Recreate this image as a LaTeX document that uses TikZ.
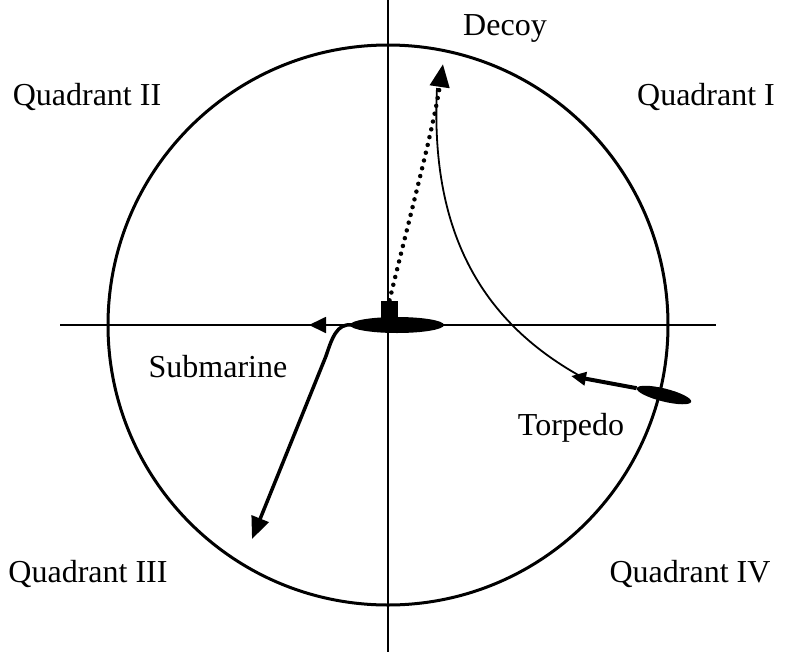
\documentclass[tikz,border=0pt]{standalone}
\usepackage{fontspec}
\setmainfont{Liberation Serif}
\usetikzlibrary{arrows.meta,shapes.geometric}
\begin{document}
\begin{tikzpicture}[x=1pt,y=-1pt,
  lbl/.style={anchor=base,inner sep=0pt,font=\fontsize{32}{38}\selectfont},
  axis/.style={line width=1.8pt},
  ring/.style={line width=3pt},
  subpath/.style={line width=3.5pt,-{Triangle[length=22pt,width=18pt]}},
  decoypath/.style={line width=4.5pt,line cap=round,dash pattern=on 0pt off 8pt,-{Triangle[length=23pt,width=19pt]}},
  torppath/.style={line width=4pt,-{Triangle[length=15pt,width=13pt]}},
  trail/.style={line width=1.8pt},
  body/.style={ellipse,fill=black,draw=none,inner sep=0pt}]
\useasboundingbox (0,0) rectangle (801,654);
% axes and circle
\coordinate (ct) at (388,325);
\coordinate (xl) at (60,325);
\coordinate (xr) at (716,325);
\coordinate (yt) at (388,0);
\coordinate (yb) at (388,652);
\draw[axis] (xl) -- (xr);
\draw[axis] (yt) -- (yb);
\draw[ring] (ct) circle[radius=280];
% submarine
\node[body,minimum width=94pt,minimum height=16pt] (sub) at (397,325) {};
\node[fill=black,inner sep=0pt,minimum width=17pt,minimum height=17pt] (tower) at (389.5,309) {};
\coordinate (leftTip) at (309,325);
\draw[axis,-{Triangle[length=17pt,width=16pt]}] (sub.west) -- (leftTip);
% submarine escape path
\coordinate (subTip) at (252,539);
\draw[subpath] ([xshift=2pt]sub.west) .. controls (337,323) and (332,338) .. (326,356) -- (subTip);
% decoy
\coordinate (decoyTip) at (443,64);
\draw[decoypath] (tower.north) .. controls (414,200) and (434,125) .. (decoyTip);
% torpedo
\node[body,minimum width=56pt,minimum height=13pt,rotate=-14] (torp) at (664,395) {};
\coordinate (torpTip) at (571,376);
\draw[torppath] (torp.west) -- (torpTip);
\coordinate (trailStart) at (437,88);
\draw[trail] (trailStart) .. controls (430,230) and (480,320) .. (580,376);
% labels
\node[lbl] (decoyL) at (505,35) {Decoy};
\node[lbl] (q2) at (87,105) {Quadrant II};
\node[lbl] (q1) at (706,105) {Quadrant I};
\node[lbl] (subL) at (218,377) {Submarine};
\node[lbl] (torpL) at (571,435) {Torpedo};
\node[lbl] (q3) at (88,582) {Quadrant III};
\node[lbl] (q4) at (690,582) {Quadrant IV};
\end{tikzpicture}
\end{document}
